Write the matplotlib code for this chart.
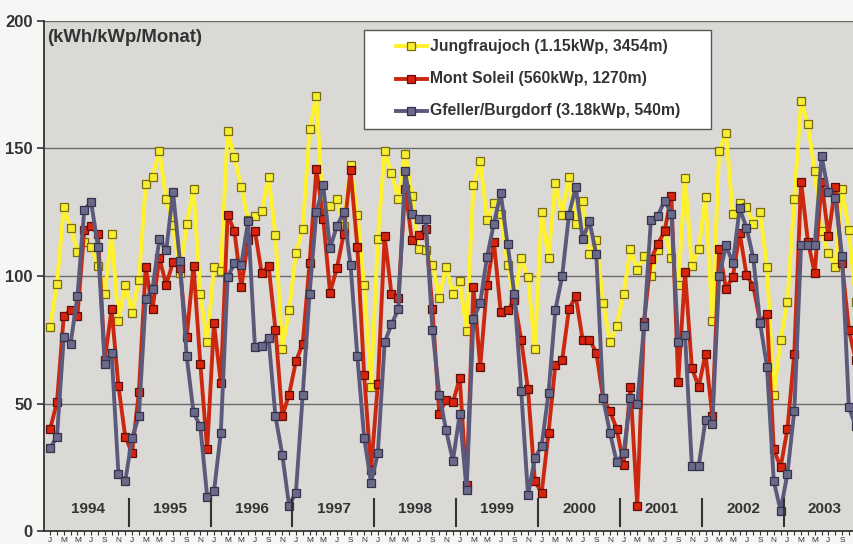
import numpy as np
import matplotlib.pyplot as plt
from matplotlib.lines import Line2D
from matplotlib.patches import Rectangle

# monthly yield, Jan 1994 ... (chart is cut at the right edge in late 2003)
jungfraujoch = [80, 97, 127, 119, 109.5, 113.5, 111.5, 104, 93, 116.5, 82.5, 96.5,
                85.5, 98.5, 136, 139, 149, 130, 120, 101, 120.5, 134, 93, 74,
                103.5, 102, 157, 146.5, 135, 122, 123.5, 125.5, 139, 116, 71.5, 86.5,
                109, 118.5, 157.5, 170.5, 123.5, 127.5, 130, 119.5, 143.5, 124, 96.5, 56.5,
                114.5, 149, 140.5, 130, 148, 131.5, 110.5, 110, 104.5, 91.5, 103.5, 93,
                98, 78.5, 135.5, 145, 122, 128.5, 124.5, 104.5, 91, 107, 99.5, 71.5,
                125, 107, 136.5, 124, 139, 120.5, 129.5, 108.5, 114, 89.5, 74, 80.5,
                93, 110.5, 102.5, 108, 100, 110, 118, 107, 96.5, 138.5, 104, 110.5,
                131, 82.5, 149, 156, 124.5, 128.5, 127, 120.5, 125, 103.5, 53.5, 75,
                90, 130, 168.5, 159.5, 141, 117.5, 109, 103.5, 134, 118, 90]
mont_soleil = [40, 50.5, 84.5, 86.5, 84.5, 118, 119.5, 116.5, 67, 87, 57, 37,
               30.5, 54.5, 103.5, 87, 107, 96.5, 105.5, 103, 76, 104, 65.5, 32,
               81.5, 58, 124, 117.5, 95.5, 114, 117.5, 101, 104, 79, 45, 53.5,
               66.5, 73.5, 105, 142, 122.5, 93.5, 103, 116.5, 141.5, 111.5, 61, 24,
               57.5, 115.5, 93, 91.5, 134, 114, 116, 118.5, 87, 46, 51.5, 50.5,
               60, 18, 95.5, 64.5, 96.5, 113.5, 86, 86.5, 90.5, 75, 55.5, 19.5,
               15, 38.5, 65, 67, 87, 92, 75, 75, 70, 52, 47, 40,
               26, 56.5, 10, 82, 106.5, 112.5, 117.5, 131.5, 58.5, 101.5, 64, 56.5,
               69.5, 45, 110.5, 95, 99.5, 117, 100.5, 96, 82, 85, 32, 25,
               40, 69.5, 137, 113.5, 101, 137, 115.5, 135, 105, 79, 67]
gfeller = [32.5, 37, 76, 73.5, 92, 126, 129, 111.5, 65.5, 70, 22.5, 19.5,
           36.5, 45, 91, 95, 114.5, 110, 133, 106, 68.5, 46.5, 41, 13.5,
           15.5, 38.5, 99.5, 105, 104.5, 121.5, 72, 72.5, 75.5, 45, 30, 10,
           15, 53.5, 93, 125, 135.5, 111, 119.5, 125, 104.5, 68.5, 36.5, 19,
           30.5, 74, 81, 87, 141, 124.5, 122.5, 122.5, 79, 53.5, 39.5, 27.5,
           46, 16, 83, 89.5, 107.5, 120.5, 132.5, 112.5, 93, 55, 14, 28.5,
           33.5, 54, 86.5, 100, 124, 135, 114.5, 121.5, 108.5, 52, 38.5, 27,
           30.5, 52, 50, 80.5, 122, 123.5, 129.5, 124.5, 74, 77, 25.5, 25.5,
           43.5, 42, 100, 112, 105, 126.5, 119, 107, 81.5, 64.5, 19.5, 8,
           22.5, 47, 112, 112, 112, 147, 133, 130.5, 108, 48.5, 41]
years = [1994, 1995, 1996, 1997, 1998, 1999, 2000, 2001, 2002, 2003]
month_letters = ['J', 'F', 'M', 'A', 'M', 'J', 'J', 'A', 'S', 'O', 'N', 'D']
labels = ['Jungfraujoch (1.15kWp, 3454m)', 'Mont Soleil (560kWp, 1270m)',
          'Gfeller/Burgdorf (3.18kWp, 540m)']

months = np.arange(len(jungfraujoch))

W, H = 854, 544
fig = plt.figure(figsize=(W / 100, H / 100), dpi=100, facecolor='#f6f6f4')
ax = fig.add_axes([44 / W, 13 / H, 810 / W, 510 / H])
ax.set_facecolor('#dbd9d5')

# line styles: (line colour, marker face, marker edge)
styles = [('#fff22c', '#f6ee30', '#7a6a10'),
          ('#cc2810', '#d8230f', '#5a1008'),
          ('#5c5a7c', '#6c6a8a', '#34324a')]

# grid lines at 50/100/150/200
for v in [50, 100, 150, 200]:
    ax.axhline(v, color='#6a6a6a', linewidth=1.0, zorder=1)

for i, series in enumerate([jungfraujoch, mont_soleil, gfeller]):
    lc, mf, me = styles[i]
    ax.plot(months, series, color=lc, linewidth=2.8, marker='s', markersize=5.4,
            markerfacecolor=mf, markeredgecolor=me, markeredgewidth=0.9, zorder=3 + i)

ax.set_xlim(-0.9, 117.75)
ax.set_ylim(0, 200)

# year labels + separators
for i, yr in enumerate(years):
    ax.text(12 * i + 5.5, 8.5, str(yr), ha='center', va='center', fontsize=11,
            fontweight='bold', family='Liberation Sans', color='#333333', zorder=6)
    if i > 0:
        ax.plot([12 * i - 0.5, 12 * i - 0.5], [2, 12.5], color='#333333', linewidth=1.5, zorder=6)

ax.text(-0.4, 193.7, '(kWh/kWp/Monat)', ha='left', va='center',
        fontsize=13.3, fontweight='bold', family='Liberation Sans', color='#333333', zorder=6)

ax.set_yticks([0, 50, 100, 150, 200])
ax.set_yticklabels(['0', '50', '100', '150', '200'], fontsize=12, fontweight='bold',
                   family='Liberation Sans', color='#333333')
ax.tick_params(axis='y', length=5, width=1.2, color='#333333', pad=3)

# month ticks only inside the visible range, letter on every second month
tick_months = months[months <= 117]
ax.set_xticks(tick_months)
ax.set_xticklabels([month_letters[m % 12] if m % 2 == 0 else '' for m in tick_months],
                   fontsize=6, family='Liberation Sans', color='#333333')
ax.tick_params(axis='x', length=3, width=0.8, color='#333333', pad=1.5, direction='out')

for side in ['top', 'right']:
    ax.spines[side].set_visible(False)
ax.spines['left'].set_color('#333333')
ax.spines['left'].set_linewidth(1.3)
ax.spines['bottom'].set_color('#333333')
ax.spines['bottom'].set_linewidth(1.3)


# legend box drawn by hand (pixel positions from the top-left corner)
def fx(x):
    return x / W


def fy(y):
    return 1 - y / H


fig.patches.append(Rectangle((fx(364), fy(129)), (711 - 364) / W, (129 - 30) / H,
                             transform=fig.transFigure, facecolor='white',
                             edgecolor='#555555', linewidth=1.0, zorder=10))
for i, lab in enumerate(labels):
    lc, mf, me = styles[i]
    yy = [46, 79, 111][i]
    fig.lines.append(Line2D([fx(396), fx(427)], [fy(yy), fy(yy)], transform=fig.transFigure,
                            color=lc, linewidth=2.8, zorder=11))
    fig.lines.append(Line2D([fx(411.5)], [fy(yy)], transform=fig.transFigure, marker='s',
                            markersize=5.4, markerfacecolor=mf, markeredgecolor=me,
                            markeredgewidth=0.9, linestyle='none', zorder=12))
    fig.text(fx(430), fy(yy), lab, ha='left', va='center', fontsize=11.3, fontweight='bold',
             family='Liberation Sans', color='#333333', zorder=12)

fig.savefig('out.png', dpi=100, facecolor=fig.get_facecolor())
